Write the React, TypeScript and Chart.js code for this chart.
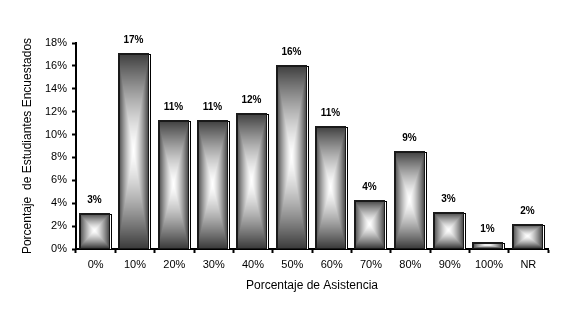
import React, { useEffect, useRef } from 'react';
import { Chart, registerables } from 'chart.js';

Chart.register(...registerables);

const categories = ['0%', '10%', '20%', '30%', '40%', '50%', '60%', '70%', '80%', '90%', '100%', 'NR'];
const attendanceShare = [3.16, 17.16, 11.28, 11.28, 11.86, 16.06, 10.72, 4.32, 8.55, 3.19, 0.58, 2.15];
const valueLabels = ['3%', '17%', '11%', '11%', '12%', '16%', '11%', '4%', '9%', '3%', '1%', '2%'];
const yMax = 18;
const yStep = 2;
const xTitle = 'Porcentaje de Asistencia';
const yTitle = 'Porcentaje  de Estudiantes Encuestados';

const FONT = 'Arial, "Liberation Sans", sans-serif';

function drawBoxGradient(ctx: CanvasRenderingContext2D, l: number, t: number, w: number, h: number) {
  if (w <= 0 || h <= 0) return;
  const off = document.createElement('canvas');
  off.width = w;
  off.height = h;
  const octx = off.getContext('2d')!;
  const img = octx.createImageData(w, h);
  const hw = w / 2;
  const hh = h / 2;
  const dark = 60;
  for (let j = 0; j < h; j++) {
    for (let i = 0; i < w; i++) {
      const dx = Math.abs(i + 0.5 - hw) / hw;
      const dy = Math.abs(j + 0.5 - hh) / hh;
      const d = Math.min(1, Math.max(dx, dy));
      const v = Math.round(255 - (255 - dark) * Math.pow(d, 1.35));
      const k = (j * w + i) * 4;
      img.data[k] = v;
      img.data[k + 1] = v;
      img.data[k + 2] = v;
      img.data[k + 3] = 255;
    }
  }
  octx.putImageData(img, 0, 0);
  ctx.drawImage(off, l, t);
}

const boxBars = {
  id: 'boxBars',
  afterDatasetsDraw(chart: any) {
    const ctx: CanvasRenderingContext2D = chart.ctx;
    const meta = chart.getDatasetMeta(0);
    ctx.save();
    meta.data.forEach((bar: any, i: number) => {
      const { x, y, base, width } = bar.getProps(['x', 'y', 'base', 'width'], true);
      const w = Math.round(width);
      const l = Math.round(x - width / 2) - 1;
      const t = Math.round(y);
      const b = Math.round(base) - 1;
      const h = b - t;
      // shadow box
      ctx.fillStyle = '#ffffff';
      ctx.fillRect(l + 2, t + 1, w, h);
      ctx.strokeStyle = '#000000';
      ctx.lineWidth = 1;
      ctx.strokeRect(l + 2.5, t + 1.5, w - 1, h);
      // gradient face
      drawBoxGradient(ctx, l, t, w, h);
      // face border
      ctx.strokeStyle = '#1a1a1a';
      ctx.lineWidth = 2;
      ctx.beginPath();
      ctx.moveTo(l + 1, b);
      ctx.lineTo(l + 1, t + 1);
      ctx.lineTo(l + w - 1, t + 1);
      ctx.stroke();
      ctx.lineWidth = 1;
      ctx.strokeRect(l + 0.5, t + 0.5, w - 1, h);
      // value label
      ctx.fillStyle = '#000000';
      ctx.font = 'bold 10px ' + FONT;
      ctx.textAlign = 'center';
      ctx.textBaseline = 'middle';
      ctx.fillText(valueLabels[i], l + w / 2, t - 13);
    });
    ctx.restore();
  },
};

export default function App() {
  const ref = useRef<HTMLCanvasElement | null>(null);
  useEffect(() => {
    if (!ref.current) return;
    const chart = new Chart(ref.current, {
      type: 'bar',
      data: {
        labels: categories,
        datasets: [
          {
            data: attendanceShare,
            backgroundColor: 'rgba(0,0,0,0)',
            borderWidth: 0,
            barPercentage: 0.88,
            categoryPercentage: 0.9,
          },
        ],
      },
      options: {
        responsive: false,
        animation: false,
        events: [],
        layout: { padding: { left: 0, top: 43, right: 13, bottom: 0 } },
        plugins: { legend: { display: false }, tooltip: { enabled: false } },
        scales: {
          x: {
            grid: { drawOnChartArea: false, drawTicks: true, tickLength: 4, color: '#000', tickWidth: 2, offset: true },
            border: { display: true, color: '#000', width: 2 },
            ticks: { color: '#000', font: { family: FONT, size: 11 }, padding: 5, maxRotation: 0, autoSkip: false },
            title: { display: true, text: xTitle, color: '#000', font: { family: FONT, size: 12 }, padding: { top: 0, bottom: 21 } },
            afterFit: (s: any) => { s.height = 65; },
          },
          y: {
            min: 0,
            max: yMax,
            grid: { drawOnChartArea: false, drawTicks: true, tickLength: 4, color: '#000', tickWidth: 2 },
            border: { display: true, color: '#000', width: 2 },
            ticks: {
              stepSize: yStep,
              color: '#000',
              font: { family: FONT, size: 11 },
              padding: 5,
              callback: (v: any) => v + '%',
            },
            title: { display: true, text: yTitle, color: '#000', font: { family: FONT, size: 12 }, padding: { top: 20, bottom: 0 } },
            afterFit: (s: any) => { s.width = 76; },
          },
        },
      },
      plugins: [boxBars],
    });
    return () => chart.destroy();
  }, []);
  return (
    <div style={{ position: 'absolute', left: 0, top: 0, width: 561, height: 314, background: '#fff' }}>
      <canvas ref={ref} width={561} height={314} />
    </div>
  );
}
